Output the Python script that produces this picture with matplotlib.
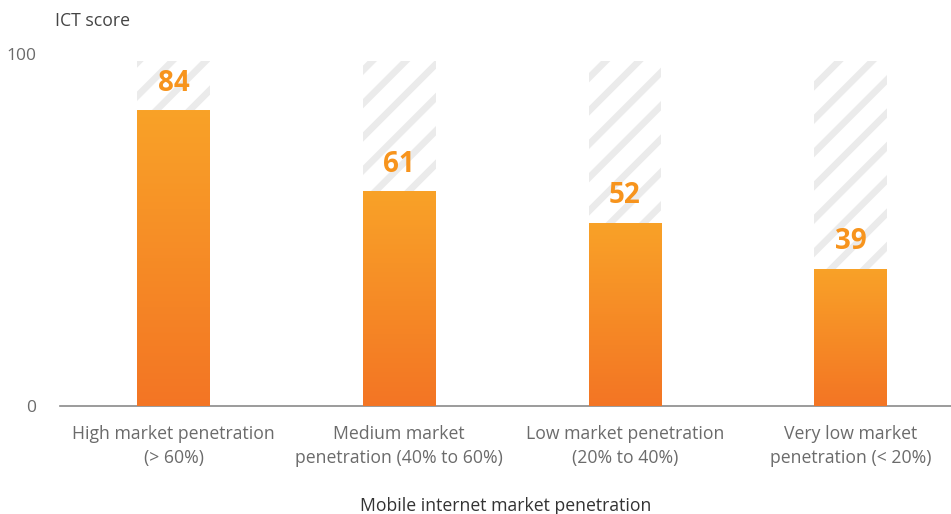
import matplotlib
matplotlib.use("Agg")
import matplotlib.pyplot as plt
import numpy as np
from matplotlib.colors import LinearSegmentedColormap

categories = ["High market penetration\n(> 60%)",
              "Medium market\npenetration (40% to 60%)",
              "Low market penetration\n(20% to 40%)",
              "Very low market\npenetration (< 20%)"]
values = [84, 61, 52, 39]
background = [98, 98, 98, 98]
yticks = [0, 100]

plt.rcParams['font.family'] = ['Open Sans', 'DejaVu Sans']
plt.rcParams['hatch.linewidth'] = 4.8
plt.rcParams['hatch.color'] = '#EBEBEB'

fig = plt.figure(figsize=(9.51, 5.14), dpi=100)
ax = fig.add_axes([0.063, 0.2101, 0.937, 0.895 - 0.2101])

x = np.arange(len(values))
w = 0.323
ax.bar(x, background, width=w, color='white', edgecolor='#EBEBEB', hatch='/', linewidth=0, zorder=1)
bars = ax.bar(x, values, width=w, color='none', linewidth=0, zorder=2)

cmap = LinearSegmentedColormap.from_list('o', ['#F37524', '#F9A228'])
grad = np.linspace(0, 1, 256).reshape(-1, 1)
for b in bars:
    x0, y0 = b.get_x(), b.get_y()
    im = ax.imshow(grad, cmap=cmap, aspect='auto', origin='lower',
                   extent=[x0, x0 + b.get_width(), y0, y0 + b.get_height()], zorder=3)
    im.set_clip_path(b)

for xi, v in zip(x, values):
    ax.annotate(str(v), (xi, v), xytext=(0, 9), textcoords='offset points',
                ha='center', va='bottom', fontsize=20, fontweight='bold', color='#F7941D', zorder=4)

ax.set_xlim(-0.503, 3.444)
ax.set_ylim(0, 100)
ax.set_xticks(x)
ax.set_xticklabels(categories, fontsize=12.7, color='#6b6b6b', linespacing=1.4)
ax.set_yticks(yticks)
ax.set_yticklabels([str(t) for t in yticks], fontsize=12.5, color='#6b6b6b')
ax.tick_params(axis='y', length=0, pad=17)
ax.tick_params(axis='x', length=0, pad=14)
for s in ['top', 'right', 'left']:
    ax.spines[s].set_visible(False)
ax.spines['bottom'].set_color('#8a8a8a')
ax.spines['bottom'].set_linewidth(1.2)

fig.text(55 / 951, 1 - 21 / 514, 'ICT score', fontsize=12.7, color='#444444', va='center', ha='left')
fig.text(506 / 951, 1 - 506 / 514, 'Mobile internet market penetration', fontsize=12.7,
         color='#333333', va='center', ha='center')

fig.savefig('out.png', dpi=100)
